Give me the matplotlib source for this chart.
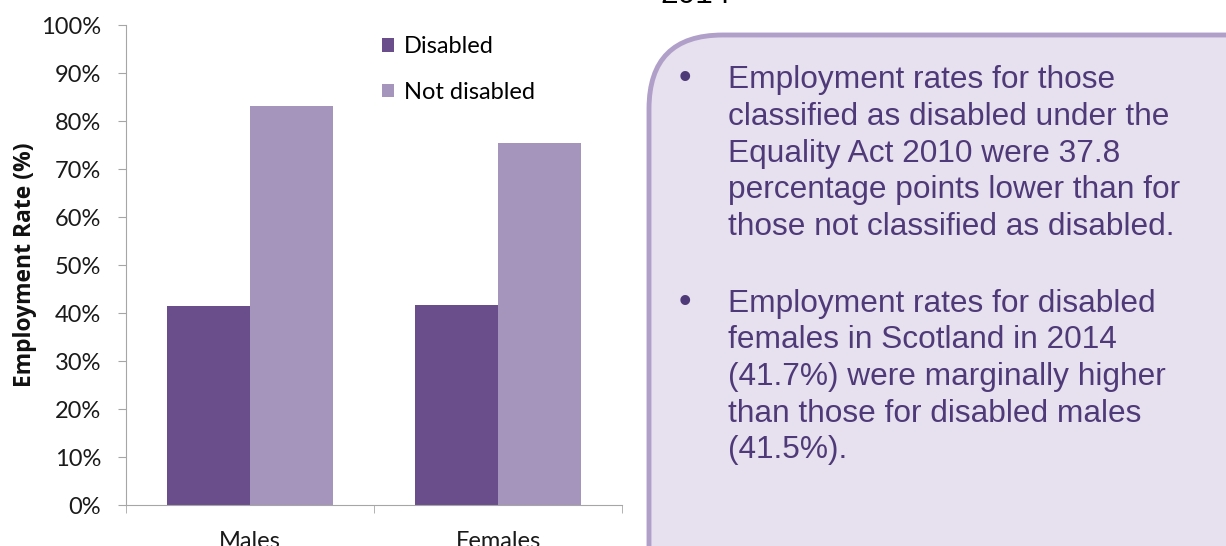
import matplotlib
matplotlib.use('Agg')
import matplotlib.pyplot as plt
from matplotlib.patches import FancyBboxPatch
import numpy as np

groups = ['Males', 'Females']
disabled = [41.5, 41.7]
not_disabled = [83.2, 75.4]
series_names = ['Disabled', 'Not disabled']
yticks = [0, 10, 20, 30, 40, 50, 60, 70, 80, 90, 100]

bullet1 = ['Employment rates for those',
           'classified as disabled under the',
           'Equality Act 2010 were 37.8',
           'percentage points lower than for',
           'those not classified as disabled.']
bullet2 = ['Employment rates for disabled',
           'females in Scotland in 2014',
           '(41.7%) were marginally higher',
           'than those for disabled males',
           '(41.5%).']

dark = '#6a4e8c'
light = '#a595bd'
axis_grey = '#a6a6a6'
text_purple = '#4e3a78'
W, H = 1226, 546

fig = plt.figure(figsize=(W/100, H/100), dpi=100, facecolor='white')
ax = fig.add_axes([126/W, 1-505/H, 496/W, 480/H])

x = np.arange(len(groups))
w = 0.335
ax.bar(x - w/2, disabled, w, color=dark, label=series_names[0])
ax.bar(x + w/2, not_disabled, w, color=light, label=series_names[1])

ax.set_xlim(-0.5, len(groups) - 0.5)
ax.set_ylim(0, 100)
ax.set_yticks(yticks)
ax.set_yticklabels(['%d%%' % v for v in yticks], fontsize=17, family='Lato', color='#1a1a1a')
ax.set_xticks(x)
ax.set_xticklabels(groups, fontsize=17, family='Lato', color='#1a1a1a')
ax.set_xticks([-0.5, 0.5, 1.5], minor=True)
ax.tick_params(axis='x', which='major', length=0, pad=19)
ax.tick_params(axis='x', which='minor', length=6, color=axis_grey)
ax.tick_params(axis='y', length=6, color=axis_grey, pad=12)
for s in ['top', 'right']:
    ax.spines[s].set_visible(False)
for s in ['left', 'bottom']:
    ax.spines[s].set_color(axis_grey)
ax.set_ylabel('Employment Rate (%)', fontsize=16.5, fontweight='bold', family='Open Sans',
              labelpad=3, color='#111111')

ax.legend(loc='upper left', bbox_to_anchor=(0.487, 1.006), frameon=False,
          prop={'family': 'Lato', 'size': 17}, handlelength=0.5, handleheight=0.5,
          handletextpad=0.45, labelspacing=1.05, borderaxespad=0.2)

# call-out box on the right, running off the edge of the figure
box = FancyBboxPatch((649/W, -0.2), 0.6, 1 - 35/H + 0.2,
                     boxstyle='round,pad=0,rounding_size=0.06',
                     transform=fig.transFigure, facecolor='#e7e0ee',
                     edgecolor='#b09fc9', linewidth=3.5, mutation_aspect=2.25)
fig.patches.append(box)

fs = 22.8
step = 36.6
for first, lines in [(88.3, bullet1), (311.7, bullet2)]:
    fig.text(679/W, 1-first/H, '\u2022', fontsize=fs + 3, color=text_purple,
             family='Liberation Sans', va='baseline')
    for i, line in enumerate(lines):
        fig.text(728/W, 1-(first + i*step)/H, line, fontsize=fs, color=text_purple,
                 family='Liberation Sans', va='baseline')

# title line above, mostly outside the figure
fig.text(660/W, 1-3/H, '2014', fontsize=fs, color='black',
         family='Liberation Sans', va='baseline')

fig.savefig('out.png', dpi=100)
